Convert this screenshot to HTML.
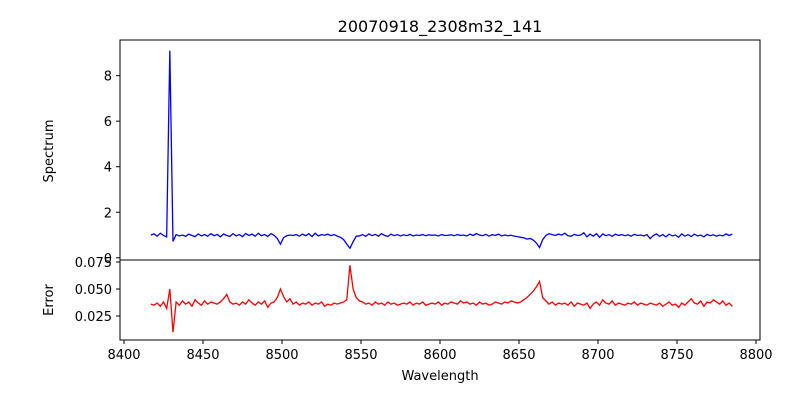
<!DOCTYPE html>
<html><head><meta charset="utf-8"><style>
body{margin:0;background:#fff}
svg{display:block;font-family:"DejaVu Sans","Liberation Sans",sans-serif}
</style></head><body>
<svg id="c" width="800" height="400" xmlns="http://www.w3.org/2000/svg">
<rect width="800" height="400" fill="#fff"/>
<text x="440" y="32" font-size="16" text-anchor="middle">20070918_2308m32_141</text>
<text transform="translate(53,151) rotate(-90)" font-size="13" text-anchor="middle">Spectrum</text>
<text transform="translate(53,300) rotate(-90)" font-size="13" text-anchor="middle">Error</text>
<text x="440" y="380" font-size="13" text-anchor="middle">Wavelength</text>
<g id="g"></g>
</svg>
<script>
const waveStart = 8417, waveStep = 2;
const spectrum = [
1.0,1.05,0.95,1.08,0.98,0.92,9.1,0.72,1.02,0.96,
1.0,0.94,1.04,0.98,0.93,1.05,0.96,1.02,0.95,1.06,
0.97,1.03,0.92,1.05,0.98,0.94,1.06,0.96,1.02,0.93,
1.07,0.98,1.04,0.95,1.08,0.97,1.02,0.94,1.06,0.99,
0.85,0.6,0.88,0.97,1.0,0.98,1.02,0.95,1.04,0.97,
1.06,0.93,1.08,0.96,1.02,0.99,1.04,0.97,1.02,0.95,
0.9,0.8,0.6,0.42,0.7,0.95,0.96,1.02,0.94,1.05,
0.97,1.03,0.95,1.06,0.98,0.94,1.04,0.97,1.02,0.96,
1.01,0.97,1.03,0.96,1.0,0.98,1.02,0.97,1.01,0.99,
1.0,0.96,1.02,0.98,0.99,1.01,0.97,1.02,0.98,1.0,
0.96,1.04,0.98,1.06,1.0,0.97,1.03,0.95,1.02,0.98,
1.04,0.96,1.0,0.97,0.99,0.95,0.93,0.9,0.88,0.82,
0.85,0.78,0.65,0.45,0.8,0.98,1.06,1.02,0.98,1.04,
1.0,1.08,0.97,0.95,1.03,0.98,1.0,1.1,0.92,1.04,
0.95,1.06,0.9,1.05,0.97,1.02,0.94,1.04,0.98,1.02,
0.97,1.01,0.95,1.03,0.98,1.0,0.96,1.02,0.84,0.98,
1.05,0.94,1.02,0.92,1.04,0.96,1.0,0.9,1.05,0.95,
1.02,0.93,1.04,0.96,1.0,0.92,1.03,0.97,1.01,0.95,
1.0,0.96,1.05,0.98,1.04];
const errorVals = [
.036,.035,.037,.034,.038,.032,.050,.010,.038,.035,
.039,.036,.038,.034,.040,.037,.035,.039,.036,.038,
.037,.036,.038,.041,.045,.038,.036,.037,.035,.038,
.036,.040,.037,.035,.038,.036,.039,.033,.037,.038,
.042,.050,.043,.038,.041,.036,.038,.035,.037,.036,
.038,.035,.037,.036,.038,.034,.036,.035,.037,.036,
.037,.038,.040,.072,.050,.042,.039,.038,.036,.037,
.035,.038,.036,.037,.035,.038,.036,.037,.035,.036,
.037,.036,.038,.035,.037,.036,.038,.035,.036,.037,
.036,.038,.035,.037,.036,.038,.037,.036,.039,.037,
.038,.036,.037,.035,.038,.036,.037,.035,.036,.038,
.037,.036,.038,.037,.039,.038,.037,.038,.040,.042,
.045,.048,.052,.057,.042,.039,.036,.038,.035,.037,
.036,.037,.035,.038,.034,.037,.036,.035,.037,.032,
.036,.038,.035,.040,.037,.036,.039,.035,.037,.036,
.035,.037,.036,.038,.035,.037,.036,.035,.037,.036,
.035,.037,.034,.036,.038,.035,.036,.033,.037,.035,
.038,.041,.037,.036,.039,.034,.038,.037,.040,.038,
.036,.039,.035,.037,.034];
const xTicks = [8400,8450,8500,8550,8600,8650,8700,8750,8800];
const specTicks = [0,2,4,6,8];
const errTicks = [0.025,0.050,0.075];

const NS="http://www.w3.org/2000/svg", g=document.getElementById('g');
const X = w => 124 + (w-8400)*632/400;
const YS = v => 257.8 - v*22.77;
const YE = v => 343 - v*1080;
function mk(t,a){const e=document.createElementNS(NS,t);for(const k in a)e.setAttribute(k,a[k]);g.appendChild(e);return e;}
function path(vals,Y){return vals.map((v,i)=>(i?'L':'M')+X(waveStart+i*waveStep).toFixed(2)+' '+Y(v).toFixed(2)).join(' ');}
let p=mk('path',{d:path(spectrum,YS),fill:'none',stroke:'#0000ff','stroke-width':1.3});


p=mk('path',{d:path(errorVals,YE),fill:'none',stroke:'#ff0000','stroke-width':1.3});


let r=mk('rect',{x:120,y:40,width:640,height:220,fill:'none',stroke:'#000','stroke-width':1});


r=mk('rect',{x:120,y:260,width:640,height:80,fill:'none',stroke:'#000','stroke-width':1});


xTicks.forEach(t=>{
  mk('line',{x1:X(t),x2:X(t),y1:340,y2:344,stroke:'#000'});
  const e=mk('text',{x:X(t),y:359,'font-size':13,'text-anchor':'middle'});e.textContent=t;
  
  
});
specTicks.forEach(t=>{
  mk('line',{x1:116,x2:120,y1:YS(t),y2:YS(t),stroke:'#000'});
  const e=mk('text',{x:112,y:YS(t)+5,'font-size':13,'text-anchor':'end'});e.textContent=t;
  
  
});
errTicks.forEach(t=>{
  mk('line',{x1:116,x2:120,y1:YE(t),y2:YE(t),stroke:'#000'});
  const e=mk('text',{x:112,y:YE(t)+5,'font-size':13,'text-anchor':'end'});e.textContent=t.toFixed(3);
  
  
});
</script>
</body></html>
